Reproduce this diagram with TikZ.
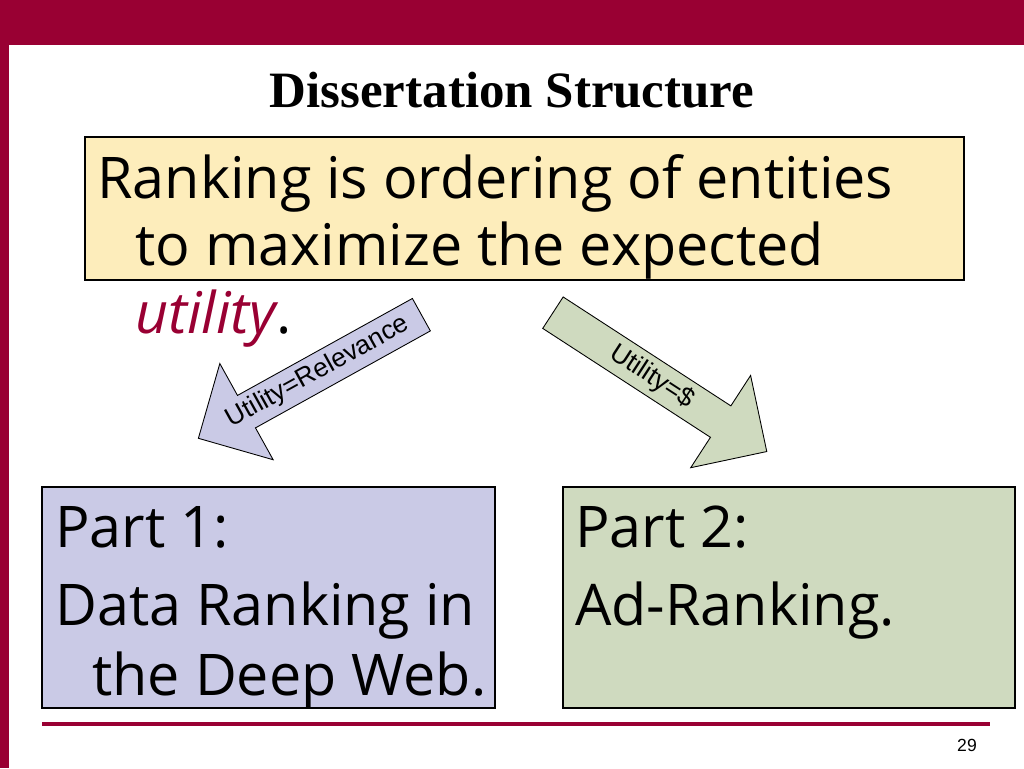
\documentclass[tikz,border=0pt]{standalone}
\usepackage{fontspec}
\setmainfont{Open Sans}
\newfontfamily\titlefont{Liberation Serif}
\newfontfamily\arrowfont{Liberation Sans}
\usetikzlibrary{shapes.arrows,positioning}
\definecolor{slidered}{HTML}{990033}
\definecolor{boxyellow}{HTML}{FDEDBB}
\definecolor{boxblue}{HTML}{CACAE6}
\definecolor{boxgreen}{HTML}{CFDABF}
\tikzset{
  bigtext/.style={anchor=base west, inner sep=0pt, font=\fontsize{32.7}{38}\selectfont},
  box/.style={draw=black, line width=0.8pt},
  bigarrow/.style={single arrow, draw=black, line width=0.5pt, minimum height=5.1cm,
    minimum width=2.2cm, single arrow head extend=0.5cm, inner sep=0pt,
    font=\arrowfont\fontsize{15}{17}\selectfont}
}
\begin{document}
\begin{tikzpicture}[x=0.02cm, y=-0.02cm]
    \useasboundingbox (0,0) rectangle (1024,768);
    \fill[slidered] (0,0) rectangle (1024,45);
    \fill[slidered] (0,0) rectangle (9,768);
    \node[font=\titlefont\bfseries\fontsize{29}{33}\selectfont] (title) at (512,90) {Dissertation Structure};

    % top statement
    \draw[box, fill=boxyellow] (85,137) rectangle (964,280);
    \node[bigtext] (rank_one) at (97,198) {Ranking is ordering of entities};
    \node[bigtext] (rank_two) at (135,265) {to maximize the expected};
    \node[bigtext] (rank_three) at (135,333) {\textcolor{slidered}{\itshape utility}.};

    % arrows
    \node[bigarrow, fill=boxblue, rotate=29, shape border rotate=180] (arrow_one) at (318,372) {Utility=Relevance};
    \node[bigarrow, fill=boxgreen, rotate=-33] (arrow_two) at (652,377) {Utility=\$};

    % parts
    \draw[box, fill=boxblue] (42,487) rectangle (495,708);
    \node[bigtext] (part_one) at (55,547) {Part 1:};
    \node[bigtext] (part_one_a) at (55,625) {Data Ranking in};
    \node[bigtext] (part_one_b) at (92,695) {the Deep Web.};

    \draw[box, fill=boxgreen] (563,487) rectangle (1015,708);
    \node[bigtext] (part_two) at (575,547) {Part 2:};
    \node[bigtext] (part_two_a) at (575,625) {Ad-Ranking.};

    \draw[slidered, line width=2pt] (42,724) -- (990,724);
    \node[font=\arrowfont\fontsize{10}{12}\selectfont] (page) at (967,745) {29};
\end{tikzpicture}
\end{document}
